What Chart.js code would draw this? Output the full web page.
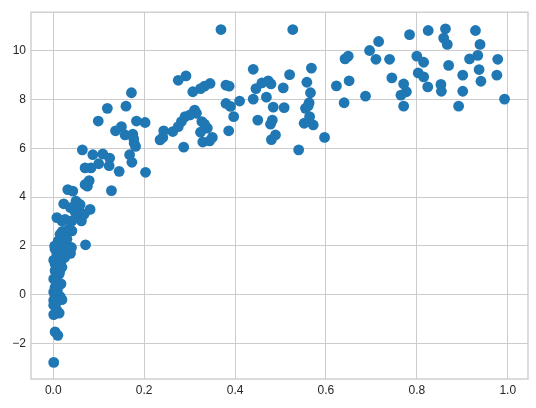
<!DOCTYPE html>
<html>
<head>
<meta charset="utf-8">
<script src="https://cdn.jsdelivr.net/npm/chart.js@4.4.1/dist/chart.umd.min.js"></script>
<style>
  html, body { margin: 0; padding: 0; background: #fff; }
  #wrap { width: 536px; height: 408px; position: relative; }
</style>
</head>
<body>
<div id="wrap"><canvas id="myChart"></canvas></div>
<script>
// scatter points
const xValues = [
  0.369, 0.527, 0.863, 0.825, 0.929, 0.784, 0.859, 0.867, 0.939, 0.716,
  0.696, 0.710, 0.740, 0.800, 0.815, 0.870, 0.916, 0.934, 0.978, 0.642,
  0.649, 0.745, 0.803, 0.815, 0.901, 0.937, 0.976, 0.941, 0.651, 0.623,
  0.771, 0.824, 0.853, 0.854, 0.901, 0.777, 0.765, 0.687, 0.993, 0.640,
  0.771, 0.892, 0.568, 0.520, 0.440, 0.558, 0.566, 0.506, 0.473, 0.479,
  0.459, 0.446, 0.440, 0.469, 0.563, 0.555, 0.561, 0.508, 0.484, 0.564,
  0.572, 0.552, 0.482, 0.478, 0.450, 0.489, 0.480, 0.540, 0.597, 0.410,
  0.380, 0.390, 0.397, 0.386, 0.380, 0.387, 0.345, 0.333, 0.324, 0.307,
  0.292, 0.275, 0.311, 0.315, 0.301, 0.290, 0.282, 0.275, 0.263, 0.243,
  0.241, 0.235, 0.287, 0.327, 0.333, 0.339, 0.324, 0.329, 0.344, 0.350,
  0.202, 0.183, 0.203, 0.172, 0.160, 0.119, 0.099, 0.150, 0.137, 0.158,
  0.175, 0.177, 0.178, 0.181, 0.168, 0.173, 0.145, 0.124, 0.123, 0.128,
  0.109, 0.087, 0.100, 0.083, 0.070, 0.064, 0.070, 0.079, 0.075, 0.081,
  0.071, 0.032, 0.043, 0.023, 0.038, 0.050, 0.059, 0.056, 0.055, 0.068,
  0.062, 0.008, 0.019, 0.026, 0.041, 0.034, 0.041, 0.015, 0.023, 0.030,
  0.011, 0.019, 0.040, 0.038, 0.026, 0.004, 0.008, 0.015, 0.025, 0.001,
  0.004, 0.011, 0.019, 0.004, 0.013, 0.001, 0.017, 0.004, 0.001, 0.004,
  0.015, 0.019, 0.001, 0.001, 0.008, 0.013, 0.001, 0.004, 0.010, 0.001,
  0.006, 0.012, 0.009, 0.003, 0.017, 0.006, 0.020, 0.014, 0.028, 0.048
];
const yValues = [
  10.87, 10.87, 10.90, 10.83, 10.83, 10.66, 10.52, 10.26, 10.26, 10.38,
  10.01, 9.65, 9.65, 9.78, 9.53, 9.40, 9.67, 9.81, 9.65, 9.67,
  9.78, 8.89, 9.09, 8.93, 9.00, 9.23, 9.00, 8.75, 8.77, 8.56,
  8.64, 8.52, 8.62, 8.34, 8.34, 8.32, 8.18, 8.14, 8.02, 7.87,
  7.73, 7.73, 9.29, 9.02, 9.24, 8.71, 8.28, 8.48, 8.77, 8.64,
  8.68, 8.45, 8.02, 8.10, 7.87, 7.64, 7.75, 7.67, 7.69, 7.30,
  6.96, 7.03, 7.16, 6.99, 7.16, 6.55, 6.36, 5.94, 6.45, 7.94,
  7.84, 7.72, 7.30, 6.72, 8.59, 8.55, 8.66, 8.55, 8.45, 8.32,
  8.97, 8.79, 7.57, 7.44, 7.37, 7.30, 7.10, 6.89, 6.69, 6.72,
  6.45, 6.35, 6.05, 7.10, 6.99, 6.83, 6.66, 6.26, 6.31, 6.45,
  7.06, 7.12, 5.02, 8.28, 7.73, 7.64, 7.12, 6.89, 6.72, 6.55,
  6.58, 6.39, 6.21, 6.08, 5.74, 5.43, 5.06, 5.60, 5.29, 4.27,
  5.77, 5.74, 5.37, 5.20, 5.20, 5.94, 4.52, 4.68, 4.45, 3.50,
  2.05, 4.31, 4.25, 3.73, 3.57, 3.84, 3.70, 3.50, 3.23, 3.30,
  3.03, 3.16, 3.03, 3.09, 3.03, 2.69, 2.62, 2.48, 2.42, 2.28,
  2.21, 2.14, 1.94, 1.70, 1.94, 1.87, 1.67, 1.53, 1.53, 1.42,
  1.26, 1.13, 1.13, 0.99, 0.85, 0.65, 0.45, 0.31, 0.11, -0.03,
  -0.07, -0.20, -0.23, -0.43, -0.64, -0.75, -0.81, -1.52, -1.66, -2.77,
  1.05, 1.80, 0.20, 2.00, 1.35, -0.35, 2.60, 0.95, 2.35, 3.40
];
const xTicks = [0.0, 0.2, 0.4, 0.6, 0.8, 1.0];
const yTicks = [-2, 0, 2, 4, 6, 8, 10];

const points = xValues.map((x, i) => ({ x: x, y: yValues[i] }));

// draw the box round the plot area (matplotlib style spines)
const frame = {
  id: "frame",
  afterDraw(chart) {
    const { ctx, chartArea: a } = chart;
    ctx.save();
    ctx.strokeStyle = "#cccccc";
    ctx.lineWidth = 1.4;
    ctx.strokeRect(a.left, a.top, a.right - a.left, a.bottom - a.top);
    ctx.restore();
  },
};

const tickFont = { family: "'Liberation Sans', Arial, sans-serif", size: 12 };

new Chart(document.getElementById("myChart"), {
  type: "scatter",
  data: {
    datasets: [
      {
        data: points,
        backgroundColor: "#1f77b4",
        borderColor: "#1f77b4",
        borderWidth: 0,
        pointRadius: 5.4,
        pointHoverRadius: 5.4,
      },
    ],
  },
  options: {
    responsive: true,
    maintainAspectRatio: false,
    animation: false,
    layout: { padding: { top: 10, right: 8, left: 0, bottom: 0 } },
    plugins: {
      legend: { display: false },
      tooltip: { enabled: false },
    },
    scales: {
      x: {
        type: "linear",
        min: -0.049,
        max: 1.0446,
        afterBuildTicks: (scale) => {
          scale.ticks = xTicks.map((v) => ({ value: v }));
        },
        afterFit: (scale) => {
          scale.height = 29;
        },
        ticks: {
          color: "#262626",
          font: tickFont,
          padding: 4,
          callback: (v) => Number(v).toFixed(1),
        },
        grid: { color: "#cccccc", lineWidth: 1, drawTicks: false },
        border: { display: false },
      },
      y: {
        type: "linear",
        min: -3.45,
        max: 11.58,
        afterBuildTicks: (scale) => {
          scale.ticks = yTicks.map((v) => ({ value: v }));
        },
        afterFit: (scale) => {
          scale.width = 31;
        },
        ticks: {
          color: "#262626",
          font: tickFont,
          padding: 5,
          callback: (v) => String(v).replace("-", "\u2212"),
        },
        grid: { color: "#cccccc", lineWidth: 1, drawTicks: false },
        border: { display: false },
      },
    },
  },
  plugins: [frame],
});
</script>
</body>
</html>
